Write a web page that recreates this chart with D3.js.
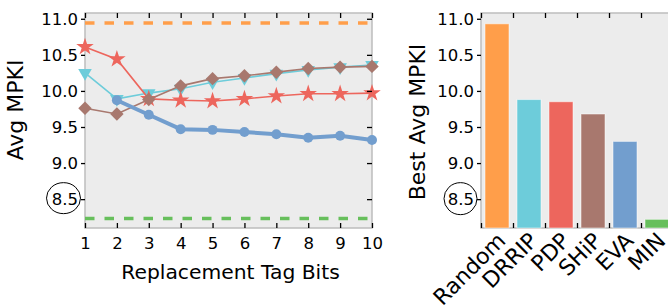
<!DOCTYPE html>
<html>
<head>
<meta charset="utf-8">
<script src="https://cdn.jsdelivr.net/npm/d3@7"></script>
<style>
  body { margin: 0; background: #fff; }
  svg text { font-family: "DejaVu Sans", sans-serif; fill: #000; }
</style>
</head>
<body>
<script>
// tag bits sweep (left panel)
var bits = [1, 2, 3, 4, 5, 6, 7, 8, 9, 10];
var drrip = [10.25, 9.89, 9.97, 10.03, 10.12, 10.18, 10.24, 10.29, 10.33, 10.36];
var pdp = [10.61, 10.44, 9.89, 9.87, 9.86, 9.89, 9.93, 9.96, 9.96, 9.97];
var ship = [9.76, 9.68, 9.88, 10.07, 10.17, 10.21, 10.26, 10.31, 10.33, 10.34];
var eva = [null, 9.87, 9.67, 9.47, 9.46, 9.43, 9.40, 9.35, 9.38, 9.32];
var randomLine = 10.94;
var minLine = 8.23;

// best per policy (right panel)
var policies = ["Random", "DRRIP", "PDP", "SHiP", "EVA", "MIN"];
var best = [10.93, 9.88, 9.85, 9.68, 9.30, 8.22];
var colors = ["#FF9E4A", "#6DCCDA", "#ED665D", "#A8786E", "#729ECE", "#67BF5C"];

var yTicks = [8.5, 9.0, 9.5, 10.0, 10.5, 11.0];

var width = 668, height = 305;
var plotTop = 13, plotBottom = 228;

var svg = d3.select("body").append("svg")
  .attr("width", width)
  .attr("height", height);

var y = d3.scaleLinear().domain([8.1, 11.08]).range([plotBottom, plotTop]);

function frame(g, x0, x1) {
  g.append("rect")
    .attr("x", x0).attr("y", plotTop)
    .attr("width", x1 - x0).attr("height", plotBottom - plotTop)
    .attr("fill", "#ececec")
    .attr("stroke", "#bdbdbd")
    .attr("stroke-width", 1.5);
}

function styleAxis(sel) {
  sel.select(".domain").remove();
  sel.selectAll(".tick line").attr("stroke", "#000").attr("stroke-width", 1.3);
  sel.selectAll(".tick text").style("font-size", "16.5px");
}

// ---------- left panel ----------
var x = d3.scaleLinear().domain([1, 10]).range([85, 372]);
var left = svg.append("g");
frame(left, 85, 372);

var tl = d3.scaleOrdinal().domain(["drrip", "pdp", "ship", "eva"]).range([colors[1], colors[2], colors[3], colors[4]]);

// dashed reference lines
[[randomLine, colors[0]], [minLine, colors[5]]].forEach(function(d) {
  left.append("line")
    .attr("x1", x(1)).attr("x2", x(10))
    .attr("y1", y(d[0])).attr("y2", y(d[0]))
    .attr("stroke", d[1])
    .attr("stroke-width", 3.5)
    .attr("stroke-dasharray", "9.5,10");
});

var series = [
  { key: "drrip", vals: drrip, sym: d3.symbolTriangle, size: 80, rot: 180, lw: 1.6 },
  { key: "pdp", vals: pdp, sym: d3.symbolStar, size: 95, rot: 0, lw: 1.6 },
  { key: "ship", vals: ship, sym: d3.symbolDiamond2, size: 115, rot: 0, lw: 1.6 },
  { key: "eva", vals: eva, sym: d3.symbolCircle, size: 78, rot: 0, lw: 4 }
];

var line = d3.line()
  .defined(function(d) { return d[1] != null; })
  .x(function(d) { return x(d[0]); })
  .y(function(d) { return y(d[1]); });

series.forEach(function(s) {
  var pts = bits.map(function(b, i) { return [b, s.vals[i]]; });
  left.append("path")
    .datum(pts)
    .attr("d", line)
    .attr("fill", "none")
    .attr("stroke", tl(s.key))
    .attr("stroke-width", s.lw);
  left.selectAll(null)
    .data(pts.filter(function(d) { return d[1] != null; }))
    .enter().append("path")
    .attr("d", d3.symbol().type(s.sym).size(s.size))
    .attr("transform", function(d) {
      return "translate(" + x(d[0]) + "," + y(d[1]) + ") rotate(" + s.rot + ")";
    })
    .attr("fill", tl(s.key));
});

left.append("g")
  .attr("transform", "translate(85,0)")
  .call(d3.axisLeft(y).tickValues(yTicks).tickFormat(d3.format(".1f")).tickSize(4).tickPadding(3))
  .call(styleAxis);
left.append("g")
  .attr("transform", "translate(372,0)")
  .call(d3.axisRight(y).tickValues(yTicks).tickFormat("").tickSize(-5))
  .call(styleAxis);
left.append("g")
  .attr("transform", "translate(0," + plotBottom + ")")
  .call(d3.axisBottom(x).tickValues(bits).tickSize(-5).tickPadding(9))
  .call(styleAxis);
left.append("g")
  .attr("transform", "translate(0," + plotTop + ")")
  .call(d3.axisTop(x).tickValues(bits).tickFormat("").tickSize(-5))
  .call(styleAxis);

left.append("ellipse")
  .attr("cx", 63.5).attr("cy", y(8.5) - 1)
  .attr("rx", 17).attr("ry", 15.5)
  .attr("fill", "none").attr("stroke", "#000").attr("stroke-width", 1);

left.append("text")
  .attr("x", 230.5).attr("y", 279)
  .attr("text-anchor", "middle")
  .style("font-size", "20.3px")
  .text("Replacement Tag Bits");

left.append("text")
  .attr("transform", "translate(23,110) rotate(-90)")
  .attr("text-anchor", "middle")
  .style("font-size", "22px")
  .text("Avg MPKI");

// ---------- right panel ----------
var xb = d3.scaleLinear().domain([0, 6]).range([481, 673]);
var right = svg.append("g");
frame(right, 481, 673);

right.selectAll("rect.bar")
  .data(best)
  .enter().append("rect")
  .attr("class", "bar")
  .attr("x", function(d, i) { return xb(i + 0.125); })
  .attr("width", xb(0.75) - xb(0))
  .attr("y", function(d) { return y(d); })
  .attr("height", function(d) { return plotBottom - y(d); })
  .attr("fill", function(d, i) { return colors[i]; })
  .attr("stroke", "#fff")
  .attr("stroke-opacity", 0.5)
  .attr("stroke-width", 1);

right.append("g")
  .attr("transform", "translate(481,0)")
  .call(d3.axisLeft(y).tickValues(yTicks).tickFormat(d3.format(".1f")).tickSize(4).tickPadding(3))
  .call(styleAxis);
right.append("g")
  .attr("transform", "translate(673,0)")
  .call(d3.axisRight(y).tickValues(yTicks).tickFormat("").tickSize(-5))
  .call(styleAxis);
right.append("g")
  .attr("transform", "translate(0," + plotBottom + ")")
  .call(d3.axisBottom(xb).tickValues(d3.range(0, 7)).tickFormat("").tickSize(-5))
  .call(styleAxis);
right.append("g")
  .attr("transform", "translate(0," + plotTop + ")")
  .call(d3.axisTop(xb).tickValues(d3.range(0, 7)).tickFormat("").tickSize(-5))
  .call(styleAxis);

right.selectAll("text.cat")
  .data(policies)
  .enter().append("text")
  .attr("class", "cat")
  .attr("text-anchor", "end")
  .attr("transform", function(d, i) {
    return "translate(" + (xb(i + 1) - 6) + ",242) rotate(-45)";
  })
  .style("font-size", "22px")
  .text(function(d) { return d; });

right.append("ellipse")
  .attr("cx", 460.5).attr("cy", y(8.5) - 0.5)
  .attr("rx", 16.5).attr("ry", 16)
  .attr("fill", "none").attr("stroke", "#000").attr("stroke-width", 1);

right.append("text")
  .attr("transform", "translate(425,122) rotate(-90)")
  .attr("text-anchor", "middle")
  .style("font-size", "22px")
  .text("Best Avg MPKI");
</script>
</body>
</html>
